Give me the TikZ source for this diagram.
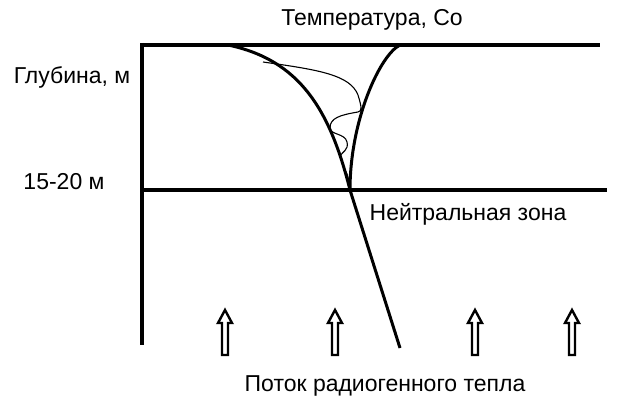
\documentclass[tikz,border=0pt]{standalone}
\usepackage{fontspec}
\setmainfont{Liberation Sans}
\begin{document}
\begin{tikzpicture}[x=1pt,y=-1pt,
  thick line/.style={line width=4pt},
  curve/.style={line width=3pt},
  lbl/.style={font=\fontsize{23}{27}\selectfont},
  heat/.style={line width=2.4pt,line join=miter}]
\useasboundingbox (0,0) rectangle (624,414);
\draw[thick line] (142,45) -- (600,45);
\draw[thick line] (142,43) -- (142,345);
\draw[thick line] (142,190) -- (607,190);
\node[lbl] (t) at (372,20) {Температура, Со};
\node[lbl] (g) at (72,77) {Глубина, м};
\node[lbl] (d) at (64,182) {15-20 м};
\node[lbl] (n) at (468,214) {Нейтральная зона};
\node[lbl] (p) at (385,386) {Поток радиогенного тепла};
\draw[curve] (228,45) .. controls (300,60) and (330,110) .. (350,190) -- (400,348);
\draw[curve] (400,45) .. controls (380,55) and (350,120) .. (350,190);
\draw[line width=1.1pt] (263,62) .. controls (320,70) and (350,75) .. (358,95) .. controls (362,108) and (362,111) .. (358,112)
 .. controls (340,115) and (330,118) .. (330,128) .. controls (330,135) and (345,133) .. (347,142)
 .. controls (349,150) and (342,152) .. (340,156);
\draw[line width=1.1pt] (345,170) .. controls (348,175) and (349,180) .. (349,185);
\foreach \x/\nm in {225/a1,335/a2,475/a3,572/a4}{
  \coordinate (\nm) at (\x,310);
  \draw[heat] (\x-3,355) -- (\x-3,323) -- (\x-7,323) -- (\x,310) -- (\x+7,323) -- (\x+3,323) -- (\x+3,355) -- cycle;
}
\end{tikzpicture}
\end{document}
